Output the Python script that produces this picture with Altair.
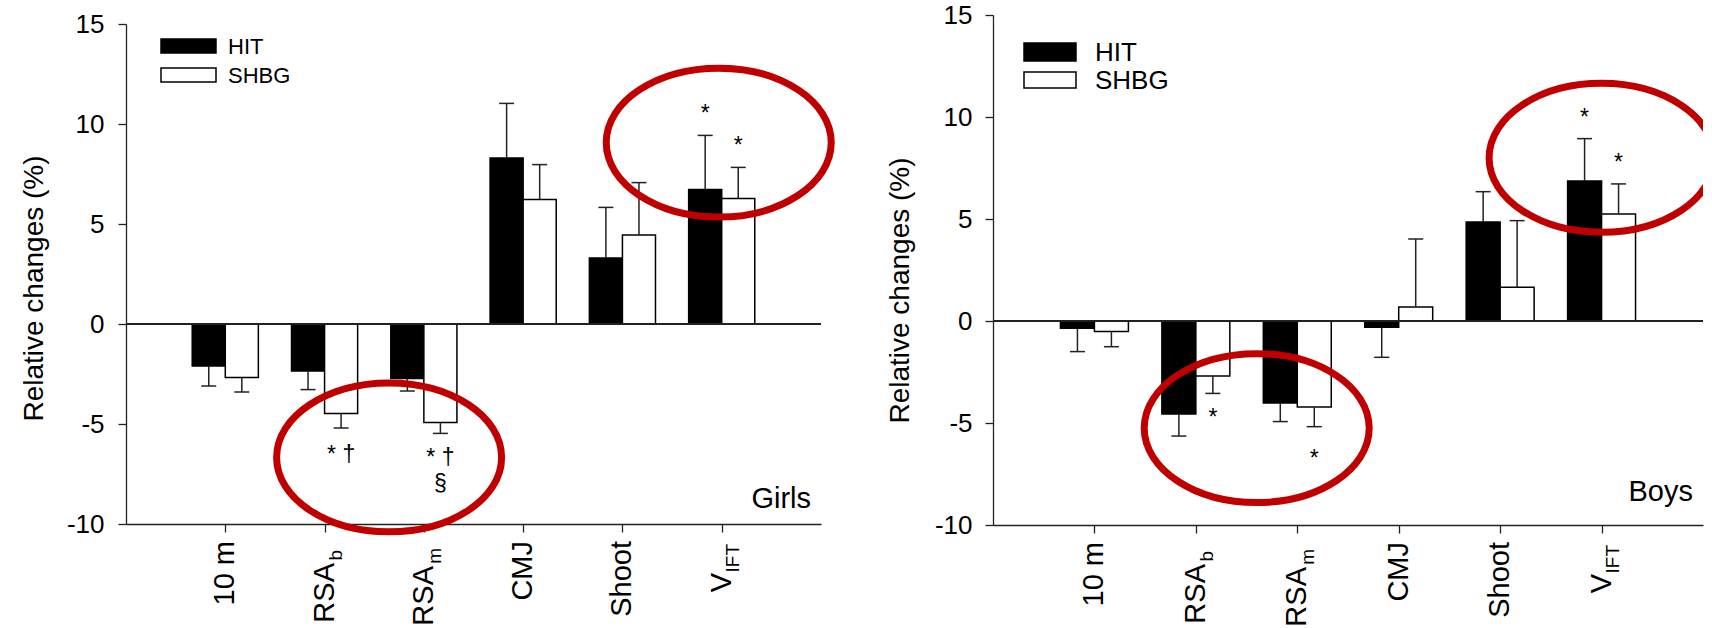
import altair as alt
import pandas as pd

FONT = "Liberation Sans, Arial, sans-serif"

categories = ["10 m", "RSAb", "RSAm", "CMJ", "Shoot", "VIFT"]
label_main = ["10 m", "RSA", "RSA", "CMJ", "Shoot", "V"]
label_sub = ["", "b", "m", "", "", "IFT"]
groups = ["HIT", "SHBG"]
y_ticks = [-10, -5, 0, 5, 10, 15]

# Girls
girls_hit = [-2.1, -2.35, -2.73, 8.3, 3.3, 6.72]
girls_hit_err = [1.0, 0.93, 0.62, 2.73, 2.53, 2.71]
girls_shbg = [-2.67, -4.48, -4.93, 6.22, 4.45, 6.27]
girls_shbg_err = [0.73, 0.72, 0.54, 1.75, 2.62, 1.56]
girls_note_cat = ["RSAb", "RSAm", "RSAm", "VIFT", "VIFT"]
girls_note_group = ["SHBG", "SHBG", "SHBG", "HIT", "SHBG"]
girls_note_y = [-6.3, -6.45, -7.75, 10.75, 9.17]
girls_note_text = ["* \u2020", "* \u2020", "\u00a7", "*", "*"]
girls_circle_x = [2.65, 5.97]
girls_circle_y = [-6.67, 9.07]

# Boys
boys_hit = [-0.36, -4.56, -4.02, -0.31, 4.85, 6.86]
boys_hit_err = [1.14, 1.08, 0.91, 1.47, 1.49, 2.08]
boys_shbg = [-0.52, -2.7, -4.22, 0.69, 1.65, 5.25]
boys_shbg_err = [0.74, 0.85, 0.96, 3.33, 3.27, 1.47]
boys_note_cat = ["RSAb", "RSAm", "VIFT", "VIFT"]
boys_note_group = ["SHBG", "SHBG", "HIT", "SHBG"]
boys_note_y = [-4.5, -6.5, 10.2, 8.0]
boys_note_text = ["*", "*", "*", "*"]
boys_circle_x = [2.6, 6.0]
boys_circle_y = [-5.25, 8.0]

ELLIPSE = ("M 1 0 C 1 0.366 0.552 0.662 0 0.662 C -0.552 0.662 -1 0.366 -1 0 "
           "C -1 -0.366 -0.552 -0.662 0 -0.662 C 0.552 -0.662 1 -0.366 1 0 Z")

sub_off = {"b": 26, "m": 24, "IFT": 20}
main_off = {"": 17, "b": 39, "m": 42, "IFT": 49}


def panel(hit, hit_err, shbg, shbg_err, n_cat, n_grp, n_y, n_txt, c_x, c_y,
          tag, w, h, top, bw, leg, clip_circles, tag_dy):
    rows = []
    for i, c in enumerate(categories):
        s = i + 1
        for g, vals, errs in (("HIT", hit, hit_err), ("SHBG", shbg, shbg_err)):
            v = vals[i]
            e = errs[i]
            sign = 1 if v >= 0 else -1
            x0 = s - bw if g == "HIT" else s
            rows.append(dict(cat=c, group=g, value=v, zero=0.0, end=v + sign * e,
                             x0=x0, x1=x0 + bw, xc=x0 + bw / 2))
    bars_df = pd.DataFrame(rows)

    xs = alt.Scale(domain=[0, 7], nice=False, zero=False)
    ys = alt.Scale(domain=[-10, 15], nice=False, zero=False, range=[h, top])

    base = alt.Chart(bars_df)
    bars = base.mark_bar(stroke="black", strokeWidth=1.5).encode(
        x=alt.X("x0:Q", scale=xs,
                axis=alt.Axis(values=[1, 2, 3, 4, 5, 6], labels=False, title=None,
                              tickSize=8, grid=False, domainWidth=1.3, tickWidth=1.3,
                              domainColor="#222", tickColor="#222")),
        x2="x1:Q",
        y=alt.Y("value:Q", scale=ys,
                axis=alt.Axis(values=y_ticks, tickSize=8, labelPadding=leg["lp"], grid=False,
                              labelExpr="'' + datum.value",
                              labelFontSize=26, labelFont=FONT, labelColor="black",
                              title="Relative changes (%)", titleFontSize=28,
                              titleFont=FONT, titleFontWeight="normal", titleColor="black",
                              titlePadding=leg["tp"], titleY=(h + top) / 2 + leg["ty"],
                              domainWidth=1.3, tickWidth=1.3,
                              domainColor="#222", tickColor="#222")),
        y2="zero:Q",
        fill=alt.Fill("group:N", scale=alt.Scale(domain=groups, range=["black", "white"]),
                      legend=None),
    )
    zero = alt.Chart(bars_df).mark_rule(color="#222", strokeWidth=1.3).encode(y=alt.datum(0))
    err = base.mark_rule(color="#222", strokeWidth=1.5).encode(
        x="xc:Q", y="value:Q", y2="end:Q")
    cap = base.mark_tick(color="#222", orient="horizontal", size=15, thickness=1.5,
                         opacity=1).encode(x="xc:Q", y="end:Q")

    notes_df = pd.DataFrame({
        "x": [categories.index(c) + 1 + (-bw / 2 if g == "HIT" else bw / 2)
              for c, g in zip(n_cat, n_grp)],
        "y": n_y, "t": n_txt})
    notes = alt.Chart(notes_df).mark_text(fontSize=23, font=FONT, color="black",
                                          baseline="middle", dy=5).encode(
        x="x:Q", y="y:Q", text="t:N")

    circ_df = pd.DataFrame({"x": c_x, "y": c_y})
    circles = alt.Chart(circ_df).mark_point(shape=ELLIPSE, size=50625, filled=False,
                                            stroke="#C00000", strokeWidth=7, opacity=1,
                                            clip=clip_circles).encode(x="x:Q", y="y:Q")

    lab_df = pd.DataFrame({
        "slot": list(range(1, 7)), "main": label_main, "sub": label_sub,
        "ym": [h + main_off[s] for s in label_sub],
        "ysb": [h + sub_off.get(s, 0) for s in label_sub]})
    lab_main = alt.Chart(lab_df).mark_text(angle=270, align="right", baseline="middle",
                                           fontSize=29, font=FONT, color="black").encode(
        x="slot:Q", y=alt.Y("ym:Q", scale=None), text="main:N")
    lab_sub = alt.Chart(lab_df).transform_filter("datum.sub != ''").mark_text(
        angle=270, align="right", baseline="middle", fontSize=19, font=FONT,
        color="black", dy=11).encode(
        x="slot:Q", y=alt.Y("ysb:Q", scale=None), text="sub:N")

    tag_df = pd.DataFrame({"t": [tag]})
    tag_mark = alt.Chart(tag_df).mark_text(align="right", baseline="alphabetic",
                                           fontSize=29, font=FONT, color="black").encode(
        x=alt.value(w - 10), y=alt.value(h - tag_dy), text="t:N")

    # legend drawn as swatches + labels
    leg_layers = []
    for k, (g, col) in enumerate(zip(groups, ["black", "white"])):
        ytop, ybot = leg["rows"][k]
        sw = alt.Chart(tag_df).mark_rect(fill=col, stroke="black", strokeWidth=1.5).encode(
            x=alt.value(leg["x0"]), x2=alt.value(leg["x1"]),
            y=alt.value(ytop), y2=alt.value(ybot))
        tx = alt.Chart(tag_df).mark_text(align="left", baseline="middle", fontSize=leg["fs"],
                                         font=FONT, color="black").encode(
            x=alt.value(leg["tx"]), y=alt.value((ytop + ybot) / 2 + 1), text=alt.value(g))
        leg_layers += [sw, tx]

    layers = [bars, zero, err, cap, notes, circles, lab_main, lab_sub, tag_mark] + leg_layers
    return alt.layer(*layers).properties(width=w, height=h)


left = panel(girls_hit, girls_hit_err, girls_shbg, girls_shbg_err,
             girls_note_cat, girls_note_group, girls_note_y, girls_note_text,
             girls_circle_x, girls_circle_y, "Girls", 695, 509, 9, 0.333,
             dict(x0=35, x1=90, rows=[(24, 38), (53, 67)], tx=102, fs=22, lp=14, tp=18,
                  ty=14),
             False, 16)
right = panel(boys_hit, boys_hit_err, boys_shbg, boys_shbg_err,
              boys_note_cat, boys_note_group, boys_note_y, boys_note_text,
              boys_circle_x, boys_circle_y, "Boys", 710, 510, 0, 0.335,
              dict(x0=31, x1=83, rows=[(28, 46), (57, 73)], tx=102, fs=26, lp=13, tp=20,
                   ty=20),
              True, 24)

chart = alt.hconcat(left, right, spacing=40, bounds="full").resolve_scale(
    fill="independent").properties(
    padding={"left": 20, "top": 2, "right": 0, "bottom": 0}, background="white"
).configure_view(stroke=None)

chart.save("out.html", embed_options={"renderer": "svg", "actions": False})
